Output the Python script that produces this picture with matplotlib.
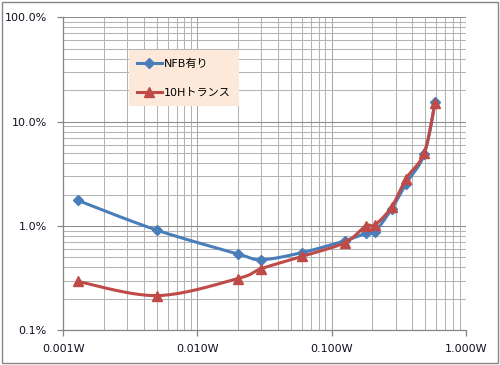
import numpy as np
import matplotlib
matplotlib.use("Agg")
import matplotlib.pyplot as plt
from matplotlib.ticker import FixedLocator, FixedFormatter, NullFormatter, LogLocator
from matplotlib.patches import Rectangle

plt.rcParams['font.family'] = ['DejaVu Sans', 'Noto Sans CJK JP']

# data
power_w = [0.00128, 0.005, 0.02, 0.03, 0.06, 0.125, 0.18, 0.21, 0.28, 0.36, 0.49, 0.59]
nfb_pct = [1.76, 0.91, 0.54, 0.475, 0.555, 0.72, 0.85, 0.88, 1.45, 2.55, 4.85, 15.3]
trans_pct = [0.294, 0.215, 0.313, 0.39, 0.51, 0.69, 1.0, 1.02, 1.52, 2.85, 5.0, 15.0]
series_names = ["NFB有り", "10Hトランス"]
x_ticks = [0.001, 0.01, 0.1, 1.0]
x_labels = ["0.001W", "0.010W", "0.100W", "1.000W"]
y_ticks = [0.1, 1.0, 10.0, 100.0]
y_labels = ["0.1%", "1.0%", "10.0%", "100.0%"]


def smooth(xs, ys, n=30):
    """Catmull-Rom smoothing in log-log space (like Excel smoothed lines)."""
    lx = np.log10(xs)
    ly = np.log10(ys)
    P = np.column_stack([lx, ly])
    P = np.vstack([P[0], P, P[-1]])
    out = []
    for i in range(1, len(P) - 2):
        p0, p1, p2, p3 = P[i - 1], P[i], P[i + 1], P[i + 2]
        c1 = p1 + (p2 - p0) / 6.0
        c2 = p2 - (p3 - p1) / 6.0
        t = np.linspace(0, 1, n)[:, None]
        seg = ((1 - t) ** 3) * p1 + 3 * ((1 - t) ** 2) * t * c1 + 3 * (1 - t) * t ** 2 * c2 + t ** 3 * p2
        out.append(seg if i == 1 else seg[1:])
    s = np.vstack(out)
    return 10 ** s[:, 0], 10 ** s[:, 1]


fig = plt.figure(figsize=(5.0, 3.65), dpi=100)
fig.patches.append(Rectangle((0.004, 0.006), 0.992, 0.989, transform=fig.transFigure,
                             fill=False, edgecolor='#868686', linewidth=1.0))
ax = fig.add_axes([0.1266, 0.0951, 0.8048, 0.8575])
ax.set_xscale('log')
ax.set_yscale('log')
ax.set_xlim(0.001, 1.0)
ax.set_ylim(0.1, 100.0)

ax.xaxis.set_major_locator(FixedLocator(x_ticks))
ax.xaxis.set_major_formatter(FixedFormatter(x_labels))
ax.yaxis.set_major_locator(FixedLocator(y_ticks))
ax.yaxis.set_major_formatter(FixedFormatter(y_labels))
ax.xaxis.set_minor_locator(LogLocator(base=10, subs=np.arange(2, 10), numticks=20))
ax.yaxis.set_minor_locator(LogLocator(base=10, subs=np.arange(2, 10), numticks=20))
ax.xaxis.set_minor_formatter(NullFormatter())
ax.yaxis.set_minor_formatter(NullFormatter())

ax.grid(True, which='major', axis='y', color='#8c8c8c', linewidth=0.75)
ax.grid(True, which='major', axis='x', color='#a6a6a6', linewidth=0.75)
ax.grid(True, which='minor', color='#b4b4b4', linewidth=0.75)
ax.set_axisbelow(True)

for s in ['top', 'right']:
    ax.spines[s].set_visible(False)
for s in ['left', 'bottom']:
    ax.spines[s].set_color('#868686')
    ax.spines[s].set_linewidth(0.9)

ax.tick_params(axis='both', which='major', length=4, width=0.9, color='#868686',
               labelsize=8, labelcolor='#101020')
ax.tick_params(axis='x', which='major', pad=6)
ax.tick_params(axis='y', which='major', pad=8)
ax.tick_params(which='minor', length=0)

blue = '#4a7ebb'
red = '#be4b48'

sx, sy = smooth(power_w, nfb_pct)
ax.plot(sx, sy, color=blue, linewidth=2.2, solid_capstyle='round', zorder=3)
ax.plot(power_w, nfb_pct, linestyle='none', marker='D', markersize=5.5, color=blue, zorder=4)
sx, sy = smooth(power_w, trans_pct)
ax.plot(sx, sy, color=red, linewidth=2.2, solid_capstyle='round', zorder=5)
ax.plot(power_w, trans_pct, linestyle='none', marker='^', markersize=7, color=red, zorder=6)

h1, = ax.plot([], [], color=blue, linewidth=2.2, marker='D', markersize=5.5)
h2, = ax.plot([], [], color=red, linewidth=2.2, marker='^', markersize=7)
leg = ax.legend([h1, h2], series_names, loc='upper left', bbox_to_anchor=(0.163, 0.8955),
                borderaxespad=0, frameon=True, fancybox=False, framealpha=1,
                facecolor='#fde9d9', edgecolor='#fde9d9', fontsize=8,
                labelspacing=1.75, handlelength=2.2, handletextpad=0.2,
                borderpad=0.75, numpoints=1)
leg.get_frame().set_linewidth(0)

fig.savefig('out.png', dpi=100)
